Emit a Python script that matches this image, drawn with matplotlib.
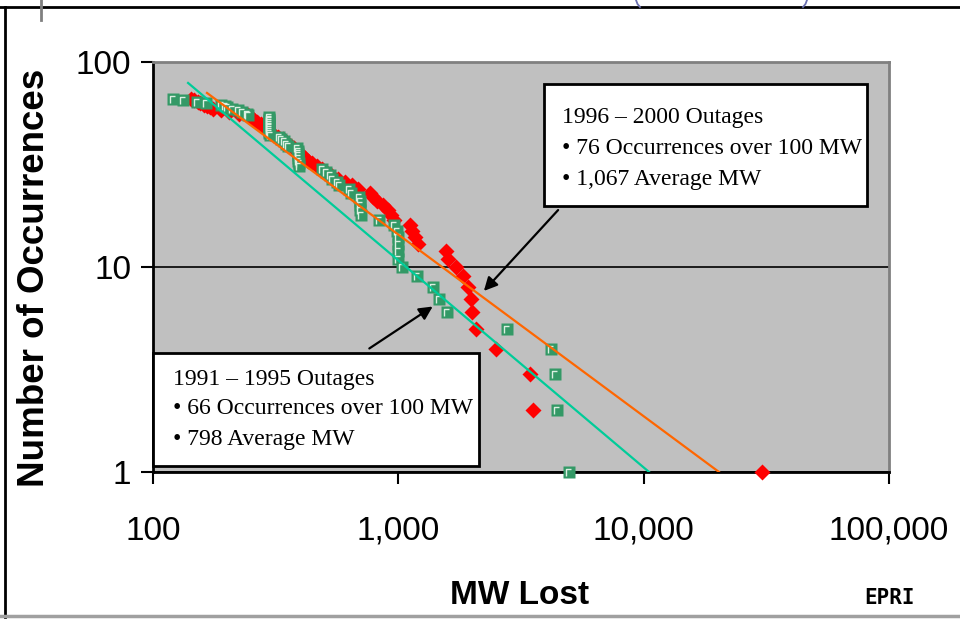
import matplotlib.pyplot as plt
import numpy as np
from matplotlib.lines import Line2D
from matplotlib.patches import Rectangle
from matplotlib.path import Path

# --- data (exceedance counts vs MW lost) ---
# 1991 - 1995 outages (green squares)
green_mw = [121, 133, 151, 164, 190, 196, 200, 210, 222, 231, 242, 245,
            297, 297, 297, 297, 297, 297, 297, 297, 298, 298, 300,
            326, 334, 342, 350, 355, 388, 390, 390, 390, 390, 391, 392, 395,
            489, 509, 525, 537, 560, 575, 630, 641, 690, 695, 698, 700, 702,
            834, 960, 990, 995, 997, 1000, 1000, 1035, 1191, 1385, 1466, 1581,
            2773, 4200, 4355, 4437, 4966]
green_n = [66, 65, 64, 63, 62, 61, 60, 59, 58, 57, 56, 55,
           54, 53, 52, 51, 50, 49, 48, 47, 46, 45, 44,
           43, 42, 41, 40, 39, 38, 37, 36, 35, 34, 33, 32, 31,
           30, 29, 28, 27, 26, 25, 24, 23, 22, 21, 20, 19, 18,
           17, 16, 15, 14, 13, 12, 11, 10, 9, 8, 7, 6,
           5, 4, 3, 2, 1]

# 1996 - 2000 outages (red diamonds)
red_mw = [143, 147, 152, 156, 162, 166, 171, 176, 190, 205, 225, 245,
          250, 254, 258, 265, 275, 280, 285, 290, 296, 300, 310, 322,
          338, 345, 352, 365, 375, 385, 395, 405, 417, 430, 445, 465,
          489, 505, 530, 565, 607, 650, 685, 770, 790, 815, 870, 905,
          935, 960, 1115, 1140, 1170, 1204, 1560, 1600, 1718, 1837, 1923,
          1980, 1995, 2075, 2501, 3443, 3540, 30400]
red_n = [66, 65, 64, 63, 62, 61, 60, 59, 58, 57, 56, 55,
         54, 53, 52, 51, 50, 49, 48, 47, 46, 45, 44, 43,
         42, 41, 40, 39, 38, 37, 36, 35, 34, 33, 32, 31,
         30, 29, 28, 27, 26, 25, 24, 23, 22, 21, 20, 19,
         18, 17, 16, 15, 14, 13, 12, 11, 10, 9, 8,
         7, 6, 5, 4, 3, 2, 1]

# power-law trendlines: n = (MW / MW_at_1) ** slope
teal_range = [139, 10520]
teal_slope = -1.01
orange_range = [166, 20280]
orange_slope = -0.886

x_ticks = [100, 1000, 10000, 100000]
x_tick_labels = ['100', '1,000', '10,000', '100,000']
y_ticks = [1, 10, 100]
y_tick_labels = ['1', '10', '100']

box_new = ['1996 \u2013 2000 Outages', '\u2022 76 Occurrences over 100 MW', '\u2022 1,067 Average MW']
box_old = ['1991 \u2013 1995 Outages', '\u2022 66 Occurrences over 100 MW', '\u2022 798 Average MW']

W, H = 960, 621
def fx(px):
    return px / W
def fy(py):
    return 1 - py / H

fig = plt.figure(figsize=(9.6, 6.21), dpi=100)
ax = fig.add_axes([fx(153), fy(472), 736 / W, 410 / H])
ax.set_facecolor('#c0c0c0')
ax.set_xscale('log')
ax.set_yscale('log')
ax.set_xlim(100, 100000)
ax.set_ylim(1, 100)

# markers
ax.plot(red_mw, red_n, linestyle='none', marker='D', ms=8.3, color='#ff0000',
        mec='none', zorder=3, clip_on=False)
ax.plot(green_mw, green_n, linestyle='none', marker='s', ms=8.0, color='#339966',
        mec='none', zorder=4, clip_on=False)
corner = Path([(-2.5, -3.5), (-2.5, 3.0), (2.0, 3.0)])
ax.plot(green_mw, green_n, linestyle='none', marker=corner, ms=5.2, mfc='none',
        mec='#dcefe2', mew=1.0, zorder=4.1, clip_on=False)

# trendlines
xt = np.geomspace(teal_range[0], teal_range[1], 60)
ax.plot(xt, (xt / teal_range[1]) ** teal_slope, color='#00cc99', lw=1.6, zorder=5)
xo = np.geomspace(orange_range[0], orange_range[1], 60)
ax.plot(xo, (xo / orange_range[1]) ** orange_slope, color='#ff6600', lw=1.6, zorder=5)

# axes styling
ax.set_axisbelow(True)
ax.yaxis.grid(True, color='black', lw=1.2)
ax.xaxis.grid(False)
ax.set_xticks(x_ticks)
ax.set_xticklabels(x_tick_labels)
ax.set_yticks(y_ticks)
ax.set_yticklabels(y_tick_labels)
ax.minorticks_off()
ax.tick_params(axis='both', direction='out', length=8.5, width=1.5, color='black',
               labelsize=24)
ax.tick_params(axis='x', pad=23)
ax.tick_params(axis='y', pad=7)
for lab in ax.get_xticklabels() + ax.get_yticklabels():
    lab.set_fontfamily('Liberation Sans')
for side in ['left', 'bottom']:
    ax.spines[side].set_color('black')
    ax.spines[side].set_linewidth(2)
for side in ['top', 'right']:
    ax.spines[side].set_color('#808080')
    ax.spines[side].set_linewidth(2)

fig.text(fx(35), fy(278), 'Number of Occurrences', rotation=90, ha='center', va='center',
         fontsize=26.5, fontweight='bold', family='Liberation Sans')
fig.text(fx(520), fy(595), 'MW Lost', ha='center', va='center',
         fontsize=24, fontweight='bold', family='Liberation Sans')

# annotation boxes
def ax_pt(px, py):
    return ((px - 153) / 736, (472 - py) / 410)

def draw_box(x0, y0, x1, y1, lines, tx, ty_list):
    a0 = ax_pt(x0, y1)
    a1 = ax_pt(x1, y0)
    ax.add_patch(Rectangle(a0, a1[0] - a0[0], a1[1] - a0[1], transform=ax.transAxes,
                           facecolor='white', edgecolor='black', lw=2, zorder=6,
                           clip_on=False))
    for line, ty in zip(lines, ty_list):
        p = ax_pt(tx, ty)
        ax.text(p[0], p[1], line, transform=ax.transAxes, ha='left', va='center',
                fontsize=17, family='Liberation Serif', zorder=7)

draw_box(544, 84, 867, 206, box_new, 562, [117, 148, 179])
draw_box(153, 353, 479, 466, box_old, 173, [379, 409, 439])

arrow_kw = dict(arrowstyle='-|>', color='black', lw=1.6, mutation_scale=20)
ax.annotate('', xy=ax_pt(482, 293), xytext=ax_pt(560, 208), xycoords='axes fraction',
            textcoords='axes fraction', arrowprops=arrow_kw, zorder=8)
ax.annotate('', xy=ax_pt(435, 305), xytext=ax_pt(367, 350), xycoords='axes fraction',
            textcoords='axes fraction', arrowprops=arrow_kw, zorder=8)

# slide frame pieces
fig.add_artist(Line2D([0, 1], [fy(7), fy(7)], transform=fig.transFigure, color='black', lw=2))
fig.add_artist(Line2D([fx(5), fx(5)], [fy(7), fy(617)], transform=fig.transFigure,
                      color='black', lw=2))
fig.add_artist(Line2D([0, 1], [fy(616), fy(616)], transform=fig.transFigure,
                      color='#a0a0a0', lw=2.5))
fig.add_artist(Line2D([fx(41), fx(41)], [fy(0), fy(20)], transform=fig.transFigure,
                      color='#808080', lw=2))
# bottoms of the cut-off title brackets
fig.add_artist(Line2D([fx(636), fx(637.5), fx(640)], [fy(0), fy(4), fy(7)],
                      transform=fig.transFigure, color='#6b70b0', lw=1.3))
fig.add_artist(Line2D([fx(807), fx(805.5), fx(803)], [fy(0), fy(4), fy(7)],
                      transform=fig.transFigure, color='#6b70b0', lw=1.3))
fig.text(fx(890), fy(598), 'EPRI', ha='center', va='center', fontsize=15,
         fontweight='bold', family='DejaVu Sans Mono')

fig.savefig('out.png', dpi=100)
